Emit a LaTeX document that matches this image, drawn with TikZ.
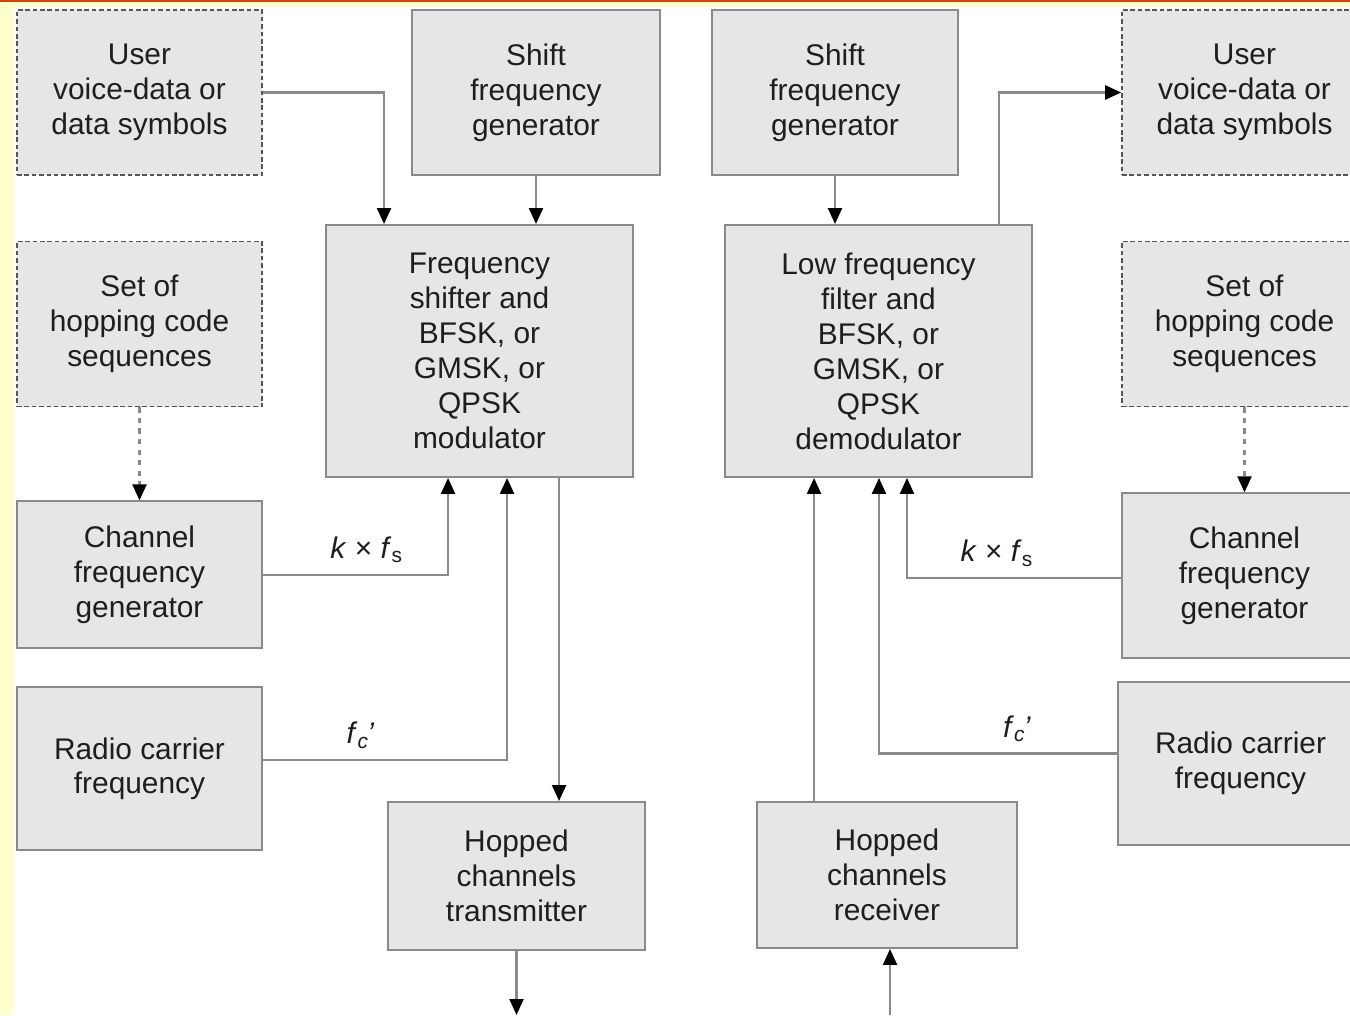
\documentclass[tikz,border=0pt]{standalone}
\usepackage{fontspec}
\setmainfont{Liberation Sans}
\usepackage{xcolor}
\usetikzlibrary{arrows.meta, positioning, calc}
\definecolor{boxfill}{HTML}{E6E6E6}
\definecolor{edge}{HTML}{8A8A8A}
\definecolor{ink}{HTML}{1E1E1E}
\definecolor{pagebar}{HTML}{FFFFCC}
\definecolor{topline}{HTML}{D4430F}

\begin{document}
\begin{tikzpicture}[
  font=\fontsize{17}{19.9}\selectfont,
  blk/.style={draw=edge, line width=1.1pt, fill=boxfill, text=ink, align=center, inner sep=0pt},
  src/.style={blk, draw=ink!75, dash pattern=on 2.6pt off 1.6pt, line width=0.9pt},
  arr/.style={draw=edge, line width=1.3pt, -{Triangle[length=3.2mm, width=2.8mm, black]}},
  lbl/.style={text=ink, inner sep=2pt},
]
\useasboundingbox (0,0) rectangle (27,20.3);
\fill[white] (0,0) rectangle (27,20.3);
\fill[pagebar] (0,0) rectangle (0.25,20.3);
\fill[pagebar] (0,20.16) rectangle (27,20.3);
\fill[topline] (0,20.25) rectangle (27,20.3);
\clip (0,0) rectangle (27,20.3);

\node[src, minimum width=4.9cm, minimum height=3.3cm] (userL) at (2.79,18.45) {User\\voice-data or\\data symbols};
\node[src, minimum width=4.9cm, minimum height=3.3cm, below=1.3cm of userL] (setL) {Set of\\hopping code\\sequences};
\node[blk, minimum width=4.9cm, minimum height=2.94cm, below=1.86cm of setL] (chanL) {Channel\\frequency\\generator};
\node[blk, minimum width=4.9cm, minimum height=3.26cm, below=0.74cm of chanL] (radioL) {Radio carrier\\frequency};
\node[blk, minimum width=4.96cm, minimum height=3.3cm] (shiftL) at (10.72,18.45) {Shift\\frequency\\generator};
\node[blk, minimum width=6.14cm, minimum height=5.04cm] (mod) at (9.59,13.28) {Frequency\\shifter and\\BFSK, or\\GMSK, or\\QPSK\\modulator};
\node[blk, minimum width=5.14cm, minimum height=2.96cm] (trans) at (10.33,2.78) {Hopped\\channels\\transmitter};

\node[blk, minimum width=6.14cm, minimum height=5.04cm, right=1.8cm of mod] (demod) {Low frequency\\filter and\\BFSK, or\\GMSK, or\\QPSK\\demodulator};
\node[blk, minimum width=4.92cm, minimum height=3.3cm] (shiftR) at (16.7,18.45) {Shift\\frequency\\generator};
\node[blk, minimum width=5.2cm, minimum height=2.92cm] (recv) at (17.74,2.8) {Hopped\\channels\\receiver};
\node[src, minimum width=4.9cm, minimum height=3.3cm] (userR) at (24.89,18.45) {User\\voice-data or\\data symbols};
\node[src, minimum width=4.9cm, minimum height=3.3cm, below=1.3cm of userR] (setR) {Set of\\hopping code\\sequences};
\node[blk, minimum width=4.9cm, minimum height=3.3cm, below=1.7cm of setR] (chanR) {Channel\\frequency\\generator};
\node[blk, minimum width=4.9cm, minimum height=3.26cm] (radioR) at (24.81,5.03) {Radio carrier\\frequency};

\coordinate (txout) at (10.33,0);
\coordinate (rxin) at (17.8,0);

\draw[arr] (userL.east) -| ([xshift=1.18cm]mod.north west);
\draw[arr] (shiftL.south) -- (shiftL.south |- mod.north);
\draw[arr, dashed] (setL.south) -- (chanL.north);
\draw[arr] (chanL.east) -| node[lbl, pos=0.28, above=4pt]{\textit{k} × \textit{f}\textsubscript{s}} ([xshift=2.46cm]mod.south west);
\draw[arr] ([yshift=0.17cm]radioL.east) -| node[lbl, pos=0.2, above=4pt]{\textit{f}\textsubscript{\textit{c}}\kern-0.05em\textit{'}} ([xshift=3.64cm]mod.south west);
\draw[arr] ([xshift=4.68cm]mod.south west) -- ([xshift=4.68cm]mod.south west |- trans.north);
\draw[arr] (trans.south) -- (txout);

\draw[arr] (shiftR.south) -- (shiftR.south |- demod.north);
\draw[arr] ([xshift=5.5cm]demod.north west) |- (userR.west);
\draw[arr, dashed] (setR.south) -- (chanR.north);
\draw[arr] ([yshift=-0.05cm]chanR.west) -| node[lbl, pos=0.29, above=4pt]{\textit{k} × \textit{f}\textsubscript{s}} ([xshift=3.66cm]demod.south west);
\draw[arr] ([yshift=0.2cm]radioR.west) -| node[lbl, pos=0.21, above=4pt]{\textit{f}\textsubscript{\textit{c}}\kern-0.05em\textit{'}} ([xshift=3.1cm]demod.south west);
\draw[arr] ([xshift=1.16cm]recv.north west) -- ([xshift=1.16cm]recv.north west |- demod.south);
\draw[arr] (rxin) -- (rxin |- recv.south);
\end{tikzpicture}
\end{document}
